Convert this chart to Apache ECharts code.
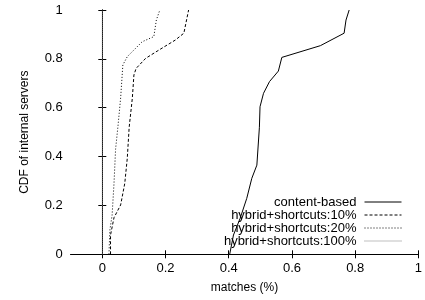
<!DOCTYPE html>
<html>
<head>
<meta charset="utf-8">
<script src="https://cdn.jsdelivr.net/npm/echarts@6/dist/echarts.min.js"></script>
<style>html,body{margin:0;padding:0;background:#fff}#c{width:425px;height:300px}</style>
</head>
<body>
<div id="c"></div>
<script>
// CDF curves: x = matches, y = CDF of internal servers
var seriesNames = ['content-based', 'hybrid+shortcuts:10%', 'hybrid+shortcuts:20%', 'hybrid+shortcuts:100%'];
var contentX = [0.403, 0.415, 0.436, 0.457, 0.473, 0.489, 0.497, 0.499, 0.510, 0.529, 0.557, 0.568, 0.690, 0.765, 0.771, 0.781];
var contentY = [0, 0.079, 0.147, 0.229, 0.311, 0.365, 0.52, 0.604, 0.659, 0.707, 0.750, 0.806, 0.854, 0.905, 0.959, 1];
var h10X = [0.026, 0.026, 0.037, 0.058, 0.071, 0.079, 0.085, 0.095, 0.100, 0.107, 0.137, 0.179, 0.231, 0.258, 0.273];
var h10Y = [0, 0.079, 0.150, 0.202, 0.290, 0.393, 0.520, 0.639, 0.734, 0.761, 0.802, 0.836, 0.877, 0.905, 1];
var h20X = [0.021, 0.024, 0.031, 0.037, 0.042, 0.050, 0.058, 0.065, 0.079, 0.126, 0.163, 0.171, 0.182];
var h20Y = [0, 0.100, 0.160, 0.290, 0.430, 0.530, 0.640, 0.775, 0.809, 0.870, 0.891, 0.959, 1];
var h100X = [0, 0];
var h100Y = [0, 1];
var xTicks = [0, 0.2, 0.4, 0.6, 0.8, 1];

function pairs(xs, ys) { return xs.map(function (x, i) { return [x, ys[i]]; }); }

var FONT = 'Liberation Sans, Arial, sans-serif';
var chart = echarts.init(document.getElementById('c'), null, { renderer: 'canvas' });

var lineStyles = [
  { color: '#000', width: 1, type: 'solid' },
  { color: '#000', width: 1, type: [3, 2] },
  { color: '#000', width: 1, type: [1, 2] },
  { color: '#808080', width: 1, type: [1, 1] }
];
var dataSets = [pairs(contentX, contentY), pairs(h10X, h10Y), pairs(h20X, h20Y), pairs(h100X, h100Y)];

var option = {
  animation: false,
  grid: { left: 70.7, right: 6.4, top: 10, bottom: 45.7, containLabel: false },
  legend: {
    data: seriesNames, orient: 'vertical', align: 'right', right: 23, top: 195.5,
    padding: 0, itemWidth: 37, itemHeight: 13.6, itemGap: 0,
    selectedMode: false,
    itemStyle: { opacity: 0 },
    lineStyle: { width: 1 },
    textStyle: { fontFamily: FONT, fontSize: 13, color: '#000', padding: [0, 3, 0, 0] }
  },
  xAxis: [{
    type: 'value', min: -0.1, max: 1, position: 'bottom',
    name: 'matches (%)', nameLocation: 'middle', nameGap: 27,
    nameTextStyle: { fontFamily: FONT, fontSize: 12, color: '#000' },
    axisLine: { lineStyle: { color: '#000', width: 1 } },
    axisTick: { inside: true, length: 4, customValues: xTicks, lineStyle: { color: '#000' } },
    axisLabel: { customValues: xTicks, fontFamily: FONT, fontSize: 13, color: '#000', margin: 8 },
    splitLine: { show: false }
  }, {
    type: 'value', min: -0.1, max: 1, position: 'top',
    axisLine: { lineStyle: { color: '#000', width: 1 } },
    axisTick: { inside: true, length: 4, customValues: xTicks, lineStyle: { color: '#000' } },
    axisLabel: { show: false }, splitLine: { show: false }
  }],
  yAxis: [{
    type: 'value', min: 0, max: 1, interval: 0.2, position: 'left',
    name: 'CDF of internal servers', nameLocation: 'middle', nameGap: 40,
    nameTextStyle: { fontFamily: FONT, fontSize: 12, color: '#000' },
    axisLine: { show: true, lineStyle: { color: '#000', width: 1 } },
    axisTick: { show: true, inside: true, length: 4, lineStyle: { color: '#000' } },
    axisLabel: { fontFamily: FONT, fontSize: 13, color: '#000', margin: 8 },
    splitLine: { show: false }
  }, {
    type: 'value', min: 0, max: 1, interval: 0.2, position: 'right',
    axisLine: { show: true, lineStyle: { color: '#000', width: 1 } },
    axisTick: { show: true, inside: true, length: 4, lineStyle: { color: '#000' } },
    axisLabel: { show: false }, splitLine: { show: false }
  }],
  series: seriesNames.map(function (n, i) {
    return {
      name: n, type: 'line', data: dataSets[i], symbol: 'none', showSymbol: false,
      xAxisIndex: 0, yAxisIndex: 0, z: 4 - i,
      lineStyle: lineStyles[i], itemStyle: { color: lineStyles[i].color },
      emphasis: { disabled: true }
    };
  })
};
chart.setOption(option);
</script>
</body>
</html>
